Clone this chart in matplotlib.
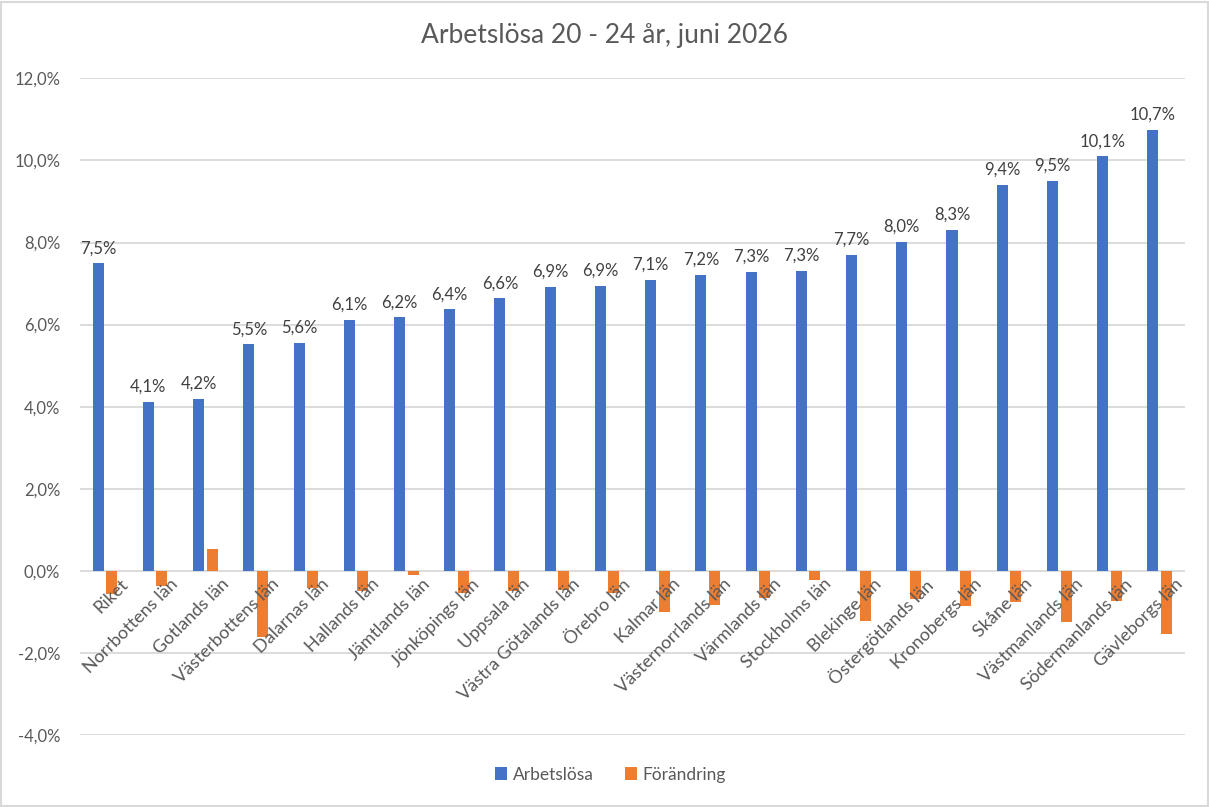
import numpy as np
import matplotlib.pyplot as plt
from matplotlib.patches import Rectangle

# --- Data
regions = ['Riket', 'Norrbottens län', 'Gotlands län', 'Västerbottens län', 'Dalarnas län',
           'Hallands län', 'Jämtlands län', 'Jönköpings län', 'Uppsala län', 'Västra Götalands län',
           'Örebro län', 'Kalmar län', 'Västernorrlands län', 'Värmlands län', 'Stockholms län',
           'Blekinge län', 'Östergötlands län', 'Kronobergs län', 'Skåne län', 'Västmanlands län',
           'Södermanlands län', 'Gävleborgs län']
arbetslosa = [7.49, 4.12, 4.20, 5.52, 5.56, 6.12, 6.18, 6.37, 6.64, 6.92, 6.94, 7.09, 7.21,
              7.29, 7.31, 7.70, 8.02, 8.31, 9.41, 9.50, 10.10, 10.74]
forandring = [-0.57, -0.36, 0.54, -1.61, -0.41, -0.48, -0.11, -0.53, -0.48, -0.46, -0.53,
              -1.00, -0.82, -0.65, -0.21, -1.22, -0.68, -0.85, -0.75, -1.24, -0.73, -1.53]

blue = '#4472C4'
orange = '#ED7D31'
grey = '#595959'
plt.rcParams['font.family'] = ['Lato', 'DejaVu Sans']

# --- Plot
fig = plt.figure(figsize=(12.09, 8.07), dpi=100)
ax = fig.add_axes([0.066, 0.089, 0.914, 0.814])
x = np.arange(len(regions))
w = 0.22
ax.bar(x - 0.135, arbetslosa, w, color=blue, label='Arbetslösa', zorder=3)
ax.bar(x + 0.135, forandring, w, color=orange, label='Förändring', zorder=3)

for xi, v in zip(x, arbetslosa):
    ax.annotate(('%.1f%%' % v).replace('.', ','), (xi - 0.135, v), xytext=(0, 7),
                textcoords='offset pixels', ha='center', va='bottom', fontsize=12, color='#404040')

for xi, lab in zip(x, regions):
    ax.annotate(lab, (xi, 0), xytext=(15, -5), textcoords='offset pixels', ha='right', va='top',
                rotation=45, rotation_mode='anchor', fontsize=13, color=grey)

ax.set_xlim(-0.5, len(regions) - 0.5)
ax.set_ylim(-4, 12)
yt = np.arange(-4, 13, 2)
ax.set_yticks(yt)
ax.set_yticklabels([('%.1f%%' % t).replace('.', ',') for t in yt], fontsize=12, color=grey)
ax.set_xticks([])
ax.tick_params(axis='y', length=0, pad=14)
ax.grid(axis='y', color='#D9D9D9', lw=1.3, zorder=0)
for s in ax.spines.values():
    s.set_visible(False)

fig.suptitle('Arbetslösa 20 - 24 år, juni 2026', y=0.972, fontsize=19, color=grey)
ax.legend(loc='center', bbox_to_anchor=(0.48, -0.06), ncol=2, frameon=False, fontsize=12.5,
          handlelength=0.7, handleheight=0.7, handletextpad=0.3, columnspacing=1.8,
          labelcolor=grey)
fig.patches.append(Rectangle((0.001, 0.001), 0.998, 0.997, transform=fig.transFigure,
                             fill=False, edgecolor='#D9D9D9', lw=1.5))
fig.savefig('out.png', dpi=100)
